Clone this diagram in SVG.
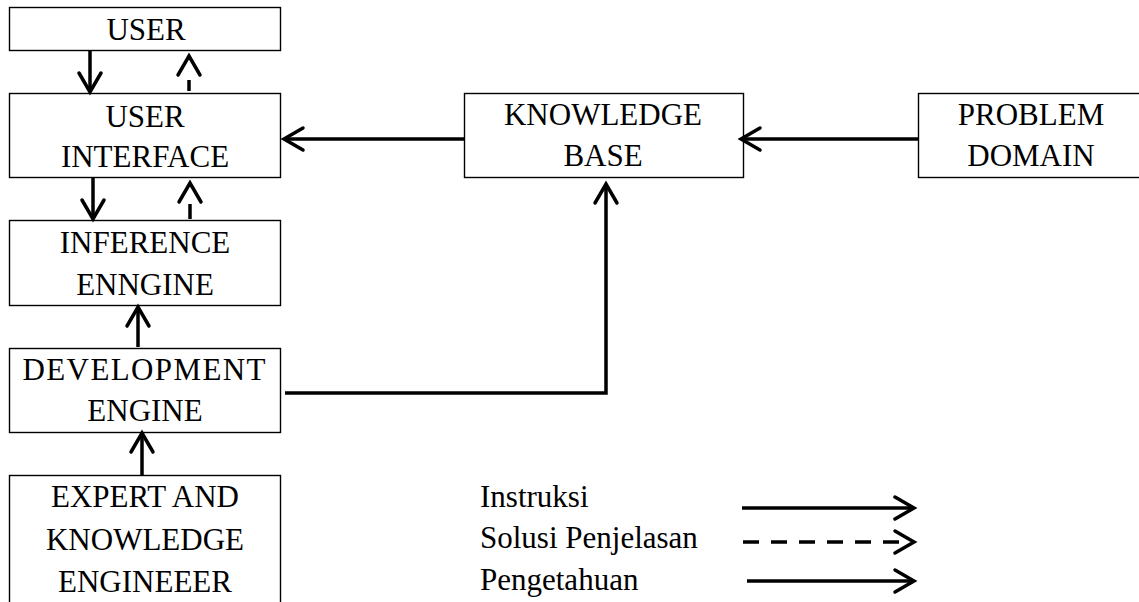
<svg xmlns="http://www.w3.org/2000/svg" width="1139" height="602" viewBox="0 0 1139 602">
  <style>
    .box { fill: #ffffff; stroke: #000000; stroke-width: 1.4; }
    .lbl { font-family: "Liberation Serif", "Times New Roman", serif; font-size: 31px; fill: #000000; }
    .mid { text-anchor: middle; }
    .wire { fill: none; stroke: #000000; stroke-width: 3.5; stroke-linejoin: miter; }
    .dash { stroke-dasharray: 16 12; }
  </style>
  <defs>
    <marker id="chev" markerUnits="userSpaceOnUse" viewBox="-24 -14 28 28" refX="0" refY="0" markerWidth="28" markerHeight="28" orient="auto" overflow="visible">
      <path d="M-19,-11 L0,0 L-19,11" fill="none" stroke="#000000" stroke-width="3.5" stroke-linecap="round" stroke-linejoin="miter"/>
    </marker>
  </defs>

  <rect width="1139" height="602" fill="#ffffff"/>

  <g id="user">
    <rect class="box" x="9.5" y="7.5" width="271" height="43"/>
    <text class="lbl mid" x="146" y="40">USER</text>
  </g>

  <g id="user-interface">
    <rect class="box" x="9.5" y="93.5" width="271" height="84"/>
    <text class="lbl mid" x="145" y="127">USER</text>
    <text class="lbl mid" x="145" y="167">INTERFACE</text>
  </g>

  <g id="inference-engine">
    <rect class="box" x="9.5" y="220.5" width="271" height="85"/>
    <text class="lbl mid" x="145" y="253">INFERENCE</text>
    <text class="lbl mid" x="145" y="295">ENNGINE</text>
  </g>

  <g id="development-engine">
    <rect class="box" x="9.5" y="348.5" width="271" height="84"/>
    <text class="lbl mid" x="144" y="380" textLength="243" lengthAdjust="spacing">DEVELOPMENT</text>
    <text class="lbl mid" x="145" y="421">ENGINE</text>
  </g>

  <g id="expert">
    <rect class="box" x="9.5" y="475.5" width="271" height="140"/>
    <text class="lbl mid" x="145" y="507">EXPERT AND</text>
    <text class="lbl mid" x="145" y="550">KNOWLEDGE</text>
    <text class="lbl mid" x="145" y="592">ENGINEEER</text>
  </g>

  <g id="knowledge-base">
    <rect class="box" x="464.5" y="93.5" width="279" height="84"/>
    <text class="lbl mid" x="603" y="125">KNOWLEDGE</text>
    <text class="lbl mid" x="603" y="166">BASE</text>
  </g>

  <g id="problem-domain">
    <rect class="box" x="918.5" y="93.5" width="240" height="84"/>
    <text class="lbl mid" x="1031" y="125">PROBLEM</text>
    <text class="lbl mid" x="1031" y="166">DOMAIN</text>
  </g>

  <g id="connectors">
    <!-- user <-> user interface -->
    <path class="wire" d="M90,51 L90,92" marker-end="url(#chev)"/>
    <path class="wire" d="M189,91 L189,56" stroke-dasharray="11 100" marker-end="url(#chev)"/>
    <!-- user interface <-> inference engine -->
    <path class="wire" d="M93,178 L93,219" marker-end="url(#chev)"/>
    <path class="wire" d="M190,219 L190,183" stroke-dasharray="15 100" marker-end="url(#chev)"/>
    <!-- development engine -> inference engine -->
    <path class="wire" d="M138,347 L138,307" marker-end="url(#chev)"/>
    <!-- expert -> development engine -->
    <path class="wire" d="M142,475 L142,433" marker-end="url(#chev)"/>
    <!-- knowledge base -> user interface -->
    <path class="wire" d="M464,139 L284,139" marker-end="url(#chev)"/>
    <!-- problem domain -> knowledge base -->
    <path class="wire" d="M918,139 L741,139" marker-end="url(#chev)"/>
    <!-- development engine -> knowledge base -->
    <path class="wire" d="M285,393 L606,393 L606,184" marker-end="url(#chev)"/>
  </g>

  <g id="legend">
    <text class="lbl" x="480" y="507">Instruksi</text>
    <text class="lbl" x="480" y="548">Solusi Penjelasan</text>
    <text class="lbl" x="480" y="590">Pengetahuan</text>
    <path class="wire" d="M742,508 L914,508" marker-end="url(#chev)"/>
    <path class="wire dash" d="M743,542 L914,542" marker-end="url(#chev)"/>
    <path class="wire" d="M747,581 L914,581" marker-end="url(#chev)"/>
  </g>
</svg>
